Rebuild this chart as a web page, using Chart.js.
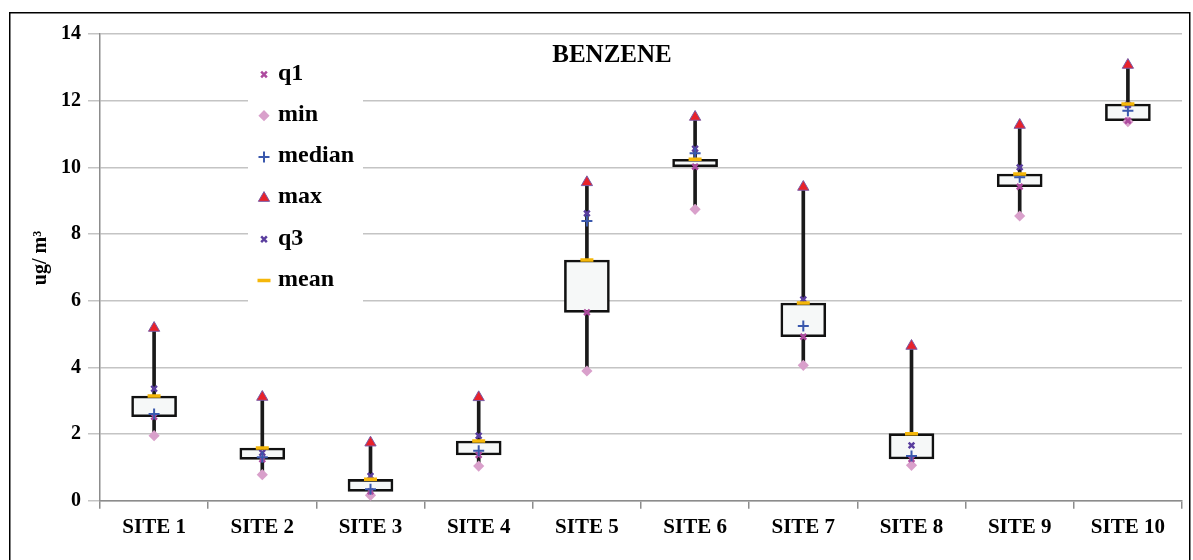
<!DOCTYPE html>
<html><head><meta charset="utf-8">
<script src="https://cdn.jsdelivr.net/npm/chart.js@4/dist/chart.umd.min.js"></script>
<style>html,body{margin:0;padding:0;background:#fff}#wrap{position:relative;width:1193px;height:560px}</style>
</head><body><div id="wrap"><canvas id="c" width="1193" height="560"></canvas></div>
<script>
const categories = ['SITE 1','SITE 2','SITE 3','SITE 4','SITE 5','SITE 6','SITE 7','SITE 8','SITE 9','SITE 10'];
const minVals    = [1.95, 0.78, 0.16, 1.04, 3.89, 8.74, 4.06, 1.06, 8.54, 11.37];
const q1Vals     = [2.52, 1.24, 0.28, 1.37, 5.65, 10.02, 4.92, 1.25, 9.42, 11.40];
const medianVals = [2.60, 1.30, 0.34, 1.50, 8.39, 10.42, 5.24, 1.34, 9.70, 11.70];
const q3Vals     = [3.36, 1.44, 0.74, 1.95, 8.62, 10.56, 6.04, 1.66, 10.00, 11.87];
const maxVals    = [5.18, 3.11, 1.74, 3.10, 9.55, 11.51, 9.41, 4.64, 11.27, 13.07];
const meanVals   = [3.14, 1.58, 0.64, 1.79, 7.22, 10.24, 5.93, 2.01, 9.80, 11.90];
const yTicks = [0, 2, 4, 6, 8, 10, 12, 14];
const chartTitle = 'BENZENE';
const yTitle = 'ug/ m\u00B3';

const SERIF = '"Liberation Serif", "Times New Roman", serif';

const markerDefs = [
  {label:'q1', data:q1Vals, pointStyle:'crossRot', radius:4, bg:'#ad4a9e', bc:'#ad4a9e', bw:2.5, order:2},
  {label:'min', data:minVals, pointStyle:'rectRot', radius:5.6, bg:'#d9a0cb', bc:'#d9a0cb', bw:0, order:5},
  {label:'median', data:medianVals, pointStyle:'cross', radius:5.5, bg:'#3a58ad', bc:'#3a58ad', bw:2, order:1},
  {label:'max', data:maxVals, pointStyle:'triangle', radius:6.5, bg:'#e8222b', bc:'#7a5aa6', bw:1, order:4},
  {label:'q3', data:q3Vals, pointStyle:'crossRot', radius:4, bg:'#5a3e9e', bc:'#5a3e9e', bw:2.5, order:3},
  {label:'mean', data:meanVals, pointStyle:'line', radius:6.5, bg:'#f5b70a', bc:'#f5b70a', bw:3.5, order:0}
];

const markerDatasets = markerDefs.map(m => ({
  type:'line', label:m.label, data:m.data, showLine:false,
  pointStyle:m.pointStyle, pointRadius:m.radius, pointHoverRadius:m.radius,
  pointBackgroundColor:m.bg, pointBorderColor:m.bc, pointBorderWidth:m.bw,
  backgroundColor:m.bg, borderColor:m.bc, order:m.order
}));

const boxData = categories.map((c,i)=>[q1Vals[i], meanVals[i]]);
const whiskerData = categories.map((c,i)=>[minVals[i], maxVals[i]]);

const decor = {
  id:'decor',
  beforeDraw(chart){
    const ctx = chart.ctx;
    ctx.save(); ctx.fillStyle='#fff'; ctx.fillRect(0,0,chart.width,chart.height); ctx.restore();
  },
  afterDraw(chart){
    const ctx = chart.ctx;
    ctx.save();
    // legend box
    const lx = 248, ly = 50, lw = 115, lh = 254;
    ctx.fillStyle = '#fff';
    ctx.fillRect(lx, ly, lw, lh);
    const rowY0 = 74.5, rowStep = 41.2;
    markerDefs.forEach((m, i) => {
      const y = rowY0 + i*rowStep;
      const x = 264;
      ctx.fillStyle = m.bg; ctx.strokeStyle = m.bc; ctx.lineWidth = m.bw;
      Chart.helpers.drawPoint(ctx, {pointStyle:m.pointStyle, radius:m.radius, borderWidth:m.bw, rotation:0}, x, y);
      ctx.fillStyle = '#000';
      ctx.font = 'bold 24px ' + SERIF;
      ctx.textAlign = 'left'; ctx.textBaseline = 'middle';
      ctx.fillText(m.label, 278, y - 1);
    });
    // title
    ctx.fillStyle = '#000';
    ctx.font = 'bold 25px ' + SERIF;
    ctx.textAlign = 'center'; ctx.textBaseline = 'middle';
    ctx.fillText(chartTitle, 612, 56);
    // y title
    ctx.save();
    ctx.translate(41, 258);
    ctx.rotate(-Math.PI/2);
    ctx.font = 'bold 20px ' + SERIF;
    ctx.textAlign = 'center'; ctx.textBaseline = 'middle';
    ctx.fillText(yTitle, 0, 0);
    ctx.restore();
    // frame
    ctx.strokeStyle = '#000'; ctx.lineWidth = 1.5;
    ctx.strokeRect(9.75, 12.75, 1180, 560);
    ctx.restore();
  }
};

new Chart(document.getElementById('c'), {
  type:'bar',
  data:{
    labels:categories,
    datasets:[
      ...markerDatasets,
      {type:'bar', label:'box', data:boxData, grouped:false, barThickness:45,
       backgroundColor:'#f6f8f8', borderColor:'#111', borderWidth:2.6, borderSkipped:false, order:8},
      {type:'bar', label:'whisker', data:whiskerData, grouped:false, barThickness:3,
       backgroundColor:'#1a1a1a', borderWidth:0, order:9}
    ]
  },
  options:{
    responsive:false, animation:false, devicePixelRatio:1,
    layout:{padding:{left:0, right:11, top:34, bottom:0}},
    plugins:{legend:{display:false}, tooltip:{enabled:false}, title:{display:false}},
    scales:{
      x:{
        offset:true,
        grid:{display:true, drawOnChartArea:false, drawTicks:true, tickLength:8, color:'#8c8c8c', lineWidth:1.5, offset:true},
        border:{color:'#8c8c8c', width:1.5},
        ticks:{color:'#000', font:{family:SERIF, weight:'bold', size:21}, padding:6, maxRotation:0, autoSkip:false},
        afterFit(s){ s.height = 59.3; }
      },
      y:{
        min:0, max:14,
        afterBuildTicks(s){ s.ticks = yTicks.map(v=>({value:v})); },
        grid:{color:'#c4c4c4', lineWidth:1.5, tickLength:12, drawTicks:true},
        border:{color:'#8c8c8c', width:1.5},
        ticks:{color:'#000', font:{family:SERIF, weight:'bold', size:20}, padding:7},
        afterFit(s){ s.width = 100; }
      }
    }
  },
  plugins:[decor]
});
</script>
</body></html>
